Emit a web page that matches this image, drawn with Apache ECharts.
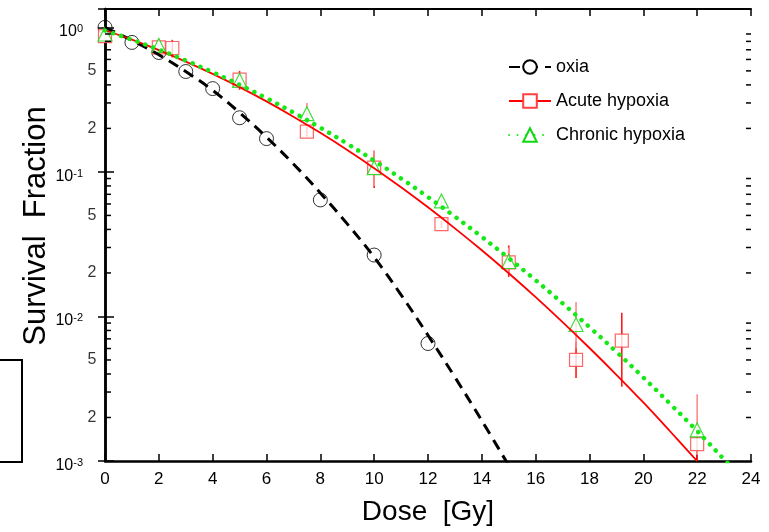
<!DOCTYPE html>
<html><head><meta charset="utf-8">
<script src="https://cdn.jsdelivr.net/npm/echarts@6/dist/echarts.min.js"></script>
<style>html,body{margin:0;padding:0;background:#fff}#c{width:769px;height:532px}</style>
</head><body><div id="c"></div>
<script>
// ---- measured points ----
const oxiaDose = [0, 1, 2, 3, 4, 5, 6, 8, 10, 12];
const oxiaSF = [1.0, 0.787, 0.67, 0.495, 0.377, 0.237, 0.17, 0.064, 0.0266, 0.0065];

const acuteDose = [0, 2, 2.5, 5, 7.5, 10, 12.5, 15, 17.5, 19.2, 22];
const acuteSF = [0.87, 0.726, 0.72, 0.435, 0.19, 0.107, 0.0435, 0.0237, 0.005, 0.0068, 0.00131];
const acuteLo = [0.80, 0.64, 0.62, 0.37, 0.175, 0.0775, 0.041, 0.0188, 0.00375, 0.00327, 0.0008];
const acuteHi = [0.95, 0.83, 0.82, 0.50, 0.205, 0.14, 0.046, 0.031, 0.0067, 0.0106, 0.0016];

const chronicDose = [0, 2, 5, 7.5, 10, 12.5, 15, 17.5, 22];
const chronicSF = [0.9, 0.75, 0.43, 0.253, 0.107, 0.063, 0.024, 0.0088, 0.00164];
const chronicLo = [0.84, 0.68, 0.40, 0.22, 0.08, 0.058, 0.02, 0.006, 0.0011];
const chronicHi = [0.95, 0.80, 0.47, 0.30, 0.14, 0.068, 0.03, 0.0126, 0.0029];

// ---- fitted curves ----
const oxiaFitDose = [0, 1, 2, 3, 4, 5, 6, 7, 8, 9, 10, 11, 12, 13, 14, 15];
const oxiaFit = [1.0, 0.813, 0.646, 0.495, 0.367, 0.257, 0.174, 0.1135, 0.0716, 0.0437, 0.0257, 0.0141, 0.00741, 0.0038, 0.0019, 0.00093];

const acuteFitDose = [0, 1, 2, 3, 4, 5, 6, 7, 8, 9, 10, 11, 12, 13, 14, 15, 16, 17, 18, 19, 20, 21, 22];
const acuteFit = [0.955, 0.822, 0.696, 0.580, 0.477, 0.386, 0.3075, 0.2411, 0.1863, 0.1417, 0.1062, 0.0783, 0.0569, 0.0407, 0.0287, 0.0199, 0.0136, 0.00914, 0.00605, 0.00395, 0.00254, 0.0016, 0.000999];

const chronicFitDose = [0, 1, 2, 3, 4, 5, 6, 7, 8, 9, 10, 11, 12, 13, 14, 15, 16, 17, 18, 19, 20, 21, 22, 23, 23.5];
const chronicFit = [0.951, 0.822, 0.701, 0.590, 0.490, 0.401, 0.3236, 0.2576, 0.2023, 0.1567, 0.1197, 0.0902, 0.067, 0.0491, 0.0355, 0.0253, 0.0178, 0.01233, 0.00843, 0.00569, 0.00378, 0.00248, 0.00161, 0.001026, 0.000815];

// ---- axis ticks / labels ----
const yMidTickValues = [0.5, 0.2, 0.05, 0.02, 0.005, 0.002];
const yMidTickLabels = ['5', '2', '5', '2', '5', '2'];
const yMinorTicks = [0.002,0.003,0.004,0.005,0.006,0.007,0.008,0.009,
  0.02,0.03,0.04,0.05,0.06,0.07,0.08,0.09,
  0.2,0.3,0.4,0.5,0.6,0.7,0.8,0.9];

const seriesNames = ['oxia', 'Acute hypoxia', 'Chronic hypoxia'];
const FONT = 'Liberation Sans';

const zip = (a, b) => a.map((v, i) => [v, b[i]]);
const zip3 = (a, b, c) => a.map((v, i) => [v, b[i], c[i]]);

const chart = echarts.init(document.getElementById('c'), null, {renderer: 'canvas'});

function errRender(color) {
  return function (params, api) {
    const p1 = api.coord([api.value(0), api.value(1)]);
    const p2 = api.coord([api.value(0), api.value(2)]);
    return {type: 'line', shape: {x1: p1[0], y1: p1[1], x2: p2[0], y2: p2[1]},
      style: {stroke: color, lineWidth: 1.6}};
  };
}

const option = {
  backgroundColor: '#fff',
  animation: false,
  textStyle: {fontFamily: FONT},
  grid: {left: 105, right: 18, top: 9, bottom: 71, containLabel: false},
  legend: {
    orient: 'vertical', left: 503, top: 53, itemWidth: 42, itemHeight: 17, itemGap: 16,
    data: seriesNames,
    textStyle: {fontSize: 18, color: '#000', fontFamily: FONT, lineHeight: 17},
    selectedMode: false
  },
  xAxis: [{
    type: 'value', min: 0, max: 24, interval: 2, position: 'bottom',
    axisLine: {lineStyle: {color: '#000', width: 2.5}},
    axisTick: {inside: true, length: 7, lineStyle: {color: '#000', width: 1.5}},
    axisLabel: {fontSize: 17, color: '#000', margin: 10, fontFamily: FONT},
    splitLine: {show: false},
    name: 'Dose  [Gy]', nameLocation: 'middle', nameGap: 37, nameMoveOverlap: false,
    nameTextStyle: {fontSize: 28, color: '#000', fontFamily: FONT}
  }, {
    type: 'value', min: 0, max: 24, interval: 2, position: 'top',
    axisLine: {lineStyle: {color: '#000', width: 2}},
    axisTick: {inside: true, length: 7, lineStyle: {color: '#000', width: 1.5}},
    axisLabel: {show: false}, splitLine: {show: false}
  }],
  yAxis: [{
    type: 'log', logBase: 10, min: 0.001, max: 1.34, position: 'left',
    axisLine: {lineStyle: {color: '#000', width: 2.5}},
    axisTick: {inside: true, length: 9, lineStyle: {color: '#000', width: 1.5}},
    axisLabel: {
      color: '#000', margin: 22, fontFamily: FONT, padding: [9, 0, 0, 0],
      showMaxLabel: false,
      formatter: function (v) {
        const e = Math.round(Math.log10(v));
        if (Math.abs(Math.log10(v) - e) > 1e-6) return '';
        return '{b|10}{s|' + e + '}';
      },
      rich: {
        b: {fontSize: 16, fontFamily: FONT, color: '#000'},
        s: {fontSize: 11, fontFamily: FONT, color: '#000', verticalAlign: 'top'}
      }
    },
    splitLine: {show: false},
    name: 'Survival  Fraction', nameLocation: 'middle', nameGap: 53, nameMoveOverlap: false,
    nameTextStyle: {fontSize: 31, color: '#000', fontFamily: FONT, padding: [0, 0, 0, 18]}
  }, {
    type: 'log', logBase: 10, min: 0.001, max: 1.34, position: 'right',
    axisLine: {lineStyle: {color: '#000', width: 2.5}},
    axisTick: {inside: true, length: 7, lineStyle: {color: '#000', width: 1.5}},
    axisLabel: {show: false}, splitLine: {show: false}
  }],
  graphic: [{
    type: 'rect', shape: {x: -3, y: 360, width: 25, height: 102},
    style: {fill: 'none', stroke: '#000', lineWidth: 2}
  }],
  series: [
    // fitted curves (drawn on top)
    {
      name: 'oxia', type: 'line', data: zip(oxiaFitDose, oxiaFit), smooth: 0.4,
      symbol: 'circle', symbolSize: 14, showSymbol: false, z: 5,
      lineStyle: {color: '#000', width: 3, type: [11, 7]},
      itemStyle: {color: '#fff', borderColor: '#000', borderWidth: 1}
    },
    {
      name: 'Acute hypoxia', type: 'line', data: zip(acuteFitDose, acuteFit), smooth: 0.4,
      symbol: 'rect', symbolSize: 13, showSymbol: false, z: 5,
      lineStyle: {color: '#ff0000', width: 1.8},
      itemStyle: {color: '#fff', borderColor: '#ff4040', borderWidth: 1.2}
    },
    {
      name: 'Chronic hypoxia', type: 'line', data: zip(chronicFitDose, chronicFit), smooth: 0.4,
      symbol: 'triangle', symbolSize: 14, showSymbol: false, z: 6,
      lineStyle: {color: '#16e816', width: 4.5, type: [0.01, 8.5], cap: 'round'},
      itemStyle: {color: '#fff', borderColor: '#10d810', borderWidth: 1.2}
    },
    // error bars
    {
      type: 'custom', name: 'acuteErr', z: 1, clip: true,
      data: zip3(acuteDose, acuteLo, acuteHi), encode: {x: 0, y: [1, 2]},
      renderItem: errRender('#ff1a1a')
    },
    {
      type: 'custom', name: 'chronicErr', z: 1, clip: true,
      data: zip3(chronicDose, chronicLo, chronicHi), encode: {x: 0, y: [1, 2]},
      renderItem: errRender('#ff8a8a')
    },
    // measured points
    {
      name: 'oxia', type: 'scatter', data: zip(oxiaDose, oxiaSF), z: 3, clip: false,
      symbol: 'circle', symbolSize: 14,
      itemStyle: {color: 'rgba(255,255,255,0)', borderColor: '#000', borderWidth: 1}
    },
    {
      name: 'Acute hypoxia', type: 'scatter', data: zip(acuteDose, acuteSF), z: 3, clip: false,
      symbol: 'rect', symbolSize: 13,
      itemStyle: {color: '#fff', borderColor: '#ff4040', borderWidth: 1.2}
    },
    {
      name: 'Chronic hypoxia', type: 'scatter', data: zip(chronicDose, chronicSF), z: 4, clip: false,
      symbol: 'triangle', symbolSize: 14,
      itemStyle: {color: '#fff', borderColor: '#10d810', borderWidth: 1.2}
    },
    // minor ticks on left and right y axes
    {
      type: 'custom', name: 'minorTicks', z: 7, silent: true,
      data: yMinorTicks.map(v => [0, v]), encode: {x: 0, y: 1},
      renderItem: function (params, api) {
        const l = api.coord([0, api.value(1)]);
        const r = api.coord([24, api.value(1)]);
        return {type: 'group', children: [
          {type: 'line', shape: {x1: l[0], y1: l[1], x2: l[0] + 6, y2: l[1]}, style: {stroke: '#000', lineWidth: 1.5}},
          {type: 'line', shape: {x1: r[0] - 5, y1: r[1], x2: r[0], y2: r[1]}, style: {stroke: '#000', lineWidth: 1.5}}
        ]};
      }
    },
    // intermediate y labels (5 and 2)
    {
      type: 'scatter', name: 'yMidLabels', silent: true, z: 7, clip: false,
      data: yMidTickValues.map((v, i) => ({value: [0, v], label: {formatter: yMidTickLabels[i]}})),
      symbol: 'circle', symbolSize: 1, itemStyle: {color: 'rgba(0,0,0,0)'},
      label: {show: true, position: 'left', distance: 8, fontSize: 16, color: '#000', fontFamily: FONT}
    }
  ]
};
chart.setOption(option);
</script>
</body></html>
